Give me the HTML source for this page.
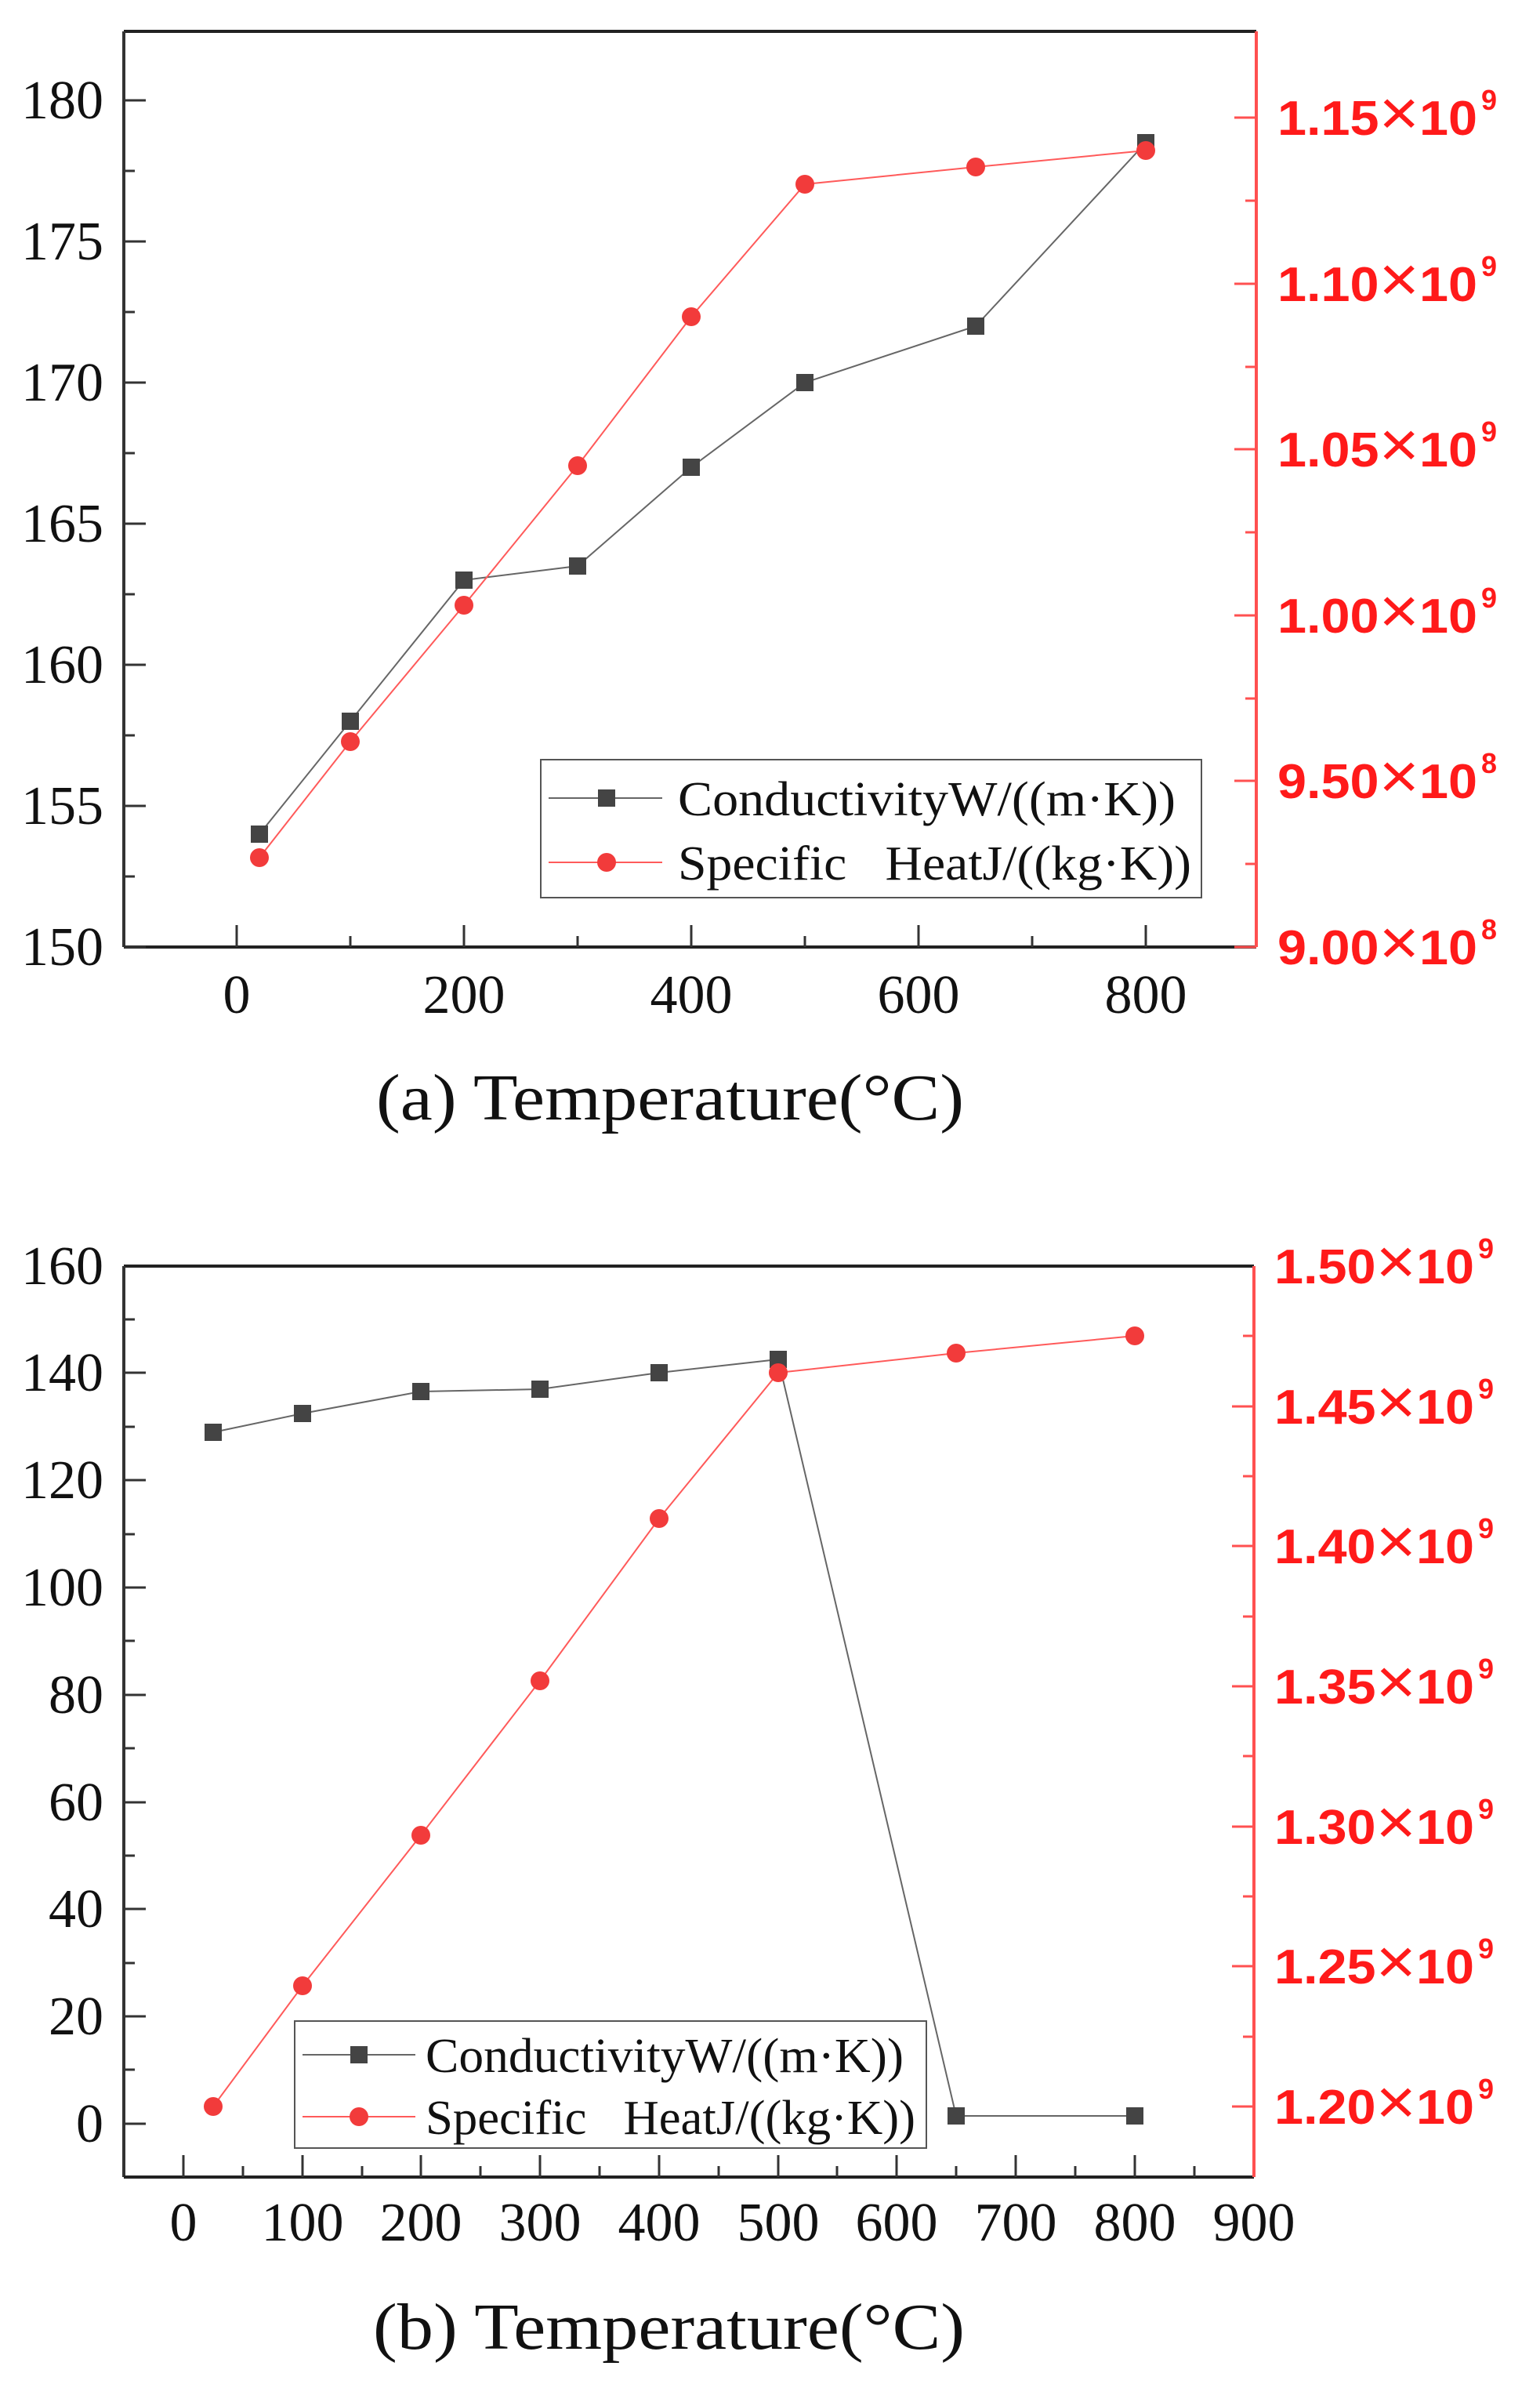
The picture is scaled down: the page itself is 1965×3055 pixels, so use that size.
<!DOCTYPE html>
<html><head><meta charset="utf-8"><style>html,body{margin:0;padding:0;background:#fff}svg{display:block}</style></head>
<body>
<svg width="1965" height="3055" viewBox="0 0 1965 3055" xmlns="http://www.w3.org/2000/svg">
<rect width="1965" height="3055" fill="#fff"/>
<g font-family="Liberation Serif, serif" font-size="70" fill="#111">
<!-- ===== Chart A ===== -->
<line x1="158" y1="40" x2="1603" y2="40" stroke="#222" stroke-width="4"/>
<line x1="158" y1="40" x2="158" y2="1208" stroke="#333" stroke-width="4"/>
<line x1="158" y1="1208" x2="1603" y2="1208" stroke="#222" stroke-width="4"/>
<line x1="1603" y1="40" x2="1603" y2="1208" stroke="#ff5050" stroke-width="4"/>
<g stroke="#333" stroke-width="3">
<line x1="158" y1="1208" x2="186" y2="1208"/><line x1="158" y1="1028" x2="186" y2="1028"/><line x1="158" y1="848" x2="186" y2="848"/><line x1="158" y1="668" x2="186" y2="668"/><line x1="158" y1="488" x2="186" y2="488"/><line x1="158" y1="308" x2="186" y2="308"/><line x1="158" y1="128" x2="186" y2="128"/>
<line x1="158" y1="1118" x2="172" y2="1118"/><line x1="158" y1="938" x2="172" y2="938"/><line x1="158" y1="758" x2="172" y2="758"/><line x1="158" y1="578" x2="172" y2="578"/><line x1="158" y1="398" x2="172" y2="398"/><line x1="158" y1="218" x2="172" y2="218"/>
<line x1="302" y1="1208" x2="302" y2="1180"/><line x1="592" y1="1208" x2="592" y2="1180"/><line x1="882" y1="1208" x2="882" y2="1180"/><line x1="1172" y1="1208" x2="1172" y2="1180"/><line x1="1462" y1="1208" x2="1462" y2="1180"/>
<line x1="447" y1="1208" x2="447" y2="1194"/><line x1="737" y1="1208" x2="737" y2="1194"/><line x1="1027" y1="1208" x2="1027" y2="1194"/><line x1="1317" y1="1208" x2="1317" y2="1194"/>
</g>
<g stroke="#ff5050" stroke-width="3">
<line x1="1603" y1="1208" x2="1575" y2="1208"/><line x1="1603" y1="996" x2="1575" y2="996"/><line x1="1603" y1="785" x2="1575" y2="785"/><line x1="1603" y1="573" x2="1575" y2="573"/><line x1="1603" y1="362" x2="1575" y2="362"/><line x1="1603" y1="150" x2="1575" y2="150"/>
<line x1="1603" y1="1102" x2="1589" y2="1102"/><line x1="1603" y1="891" x2="1589" y2="891"/><line x1="1603" y1="679" x2="1589" y2="679"/><line x1="1603" y1="468" x2="1589" y2="468"/><line x1="1603" y1="256" x2="1589" y2="256"/>
</g>
<g text-anchor="end">
<text x="132" y="1231">150</text><text x="132" y="1051">155</text><text x="132" y="871">160</text><text x="132" y="691">165</text><text x="132" y="511">170</text><text x="132" y="331">175</text><text x="132" y="151">180</text>
</g>
<g text-anchor="middle">
<text x="302" y="1292">0</text><text x="592" y="1292">200</text><text x="882" y="1292">400</text><text x="1172" y="1292">600</text><text x="1462" y="1292">800</text>
</g>
<g font-family="Liberation Sans, sans-serif" fill="#ff1a1a" font-weight="bold" font-size="62">
<text x="1630" y="1230" textLength="255" lengthAdjust="spacingAndGlyphs">9.00<tspan font-size="82" font-weight="normal">×</tspan>10</text><text x="1890" y="1198" font-size="36">8</text>
<text x="1630" y="1018" textLength="255" lengthAdjust="spacingAndGlyphs">9.50<tspan font-size="82" font-weight="normal">×</tspan>10</text><text x="1890" y="986" font-size="36">8</text>
<text x="1630" y="807" textLength="255" lengthAdjust="spacingAndGlyphs">1.00<tspan font-size="82" font-weight="normal">×</tspan>10</text><text x="1890" y="775" font-size="36">9</text>
<text x="1630" y="595" textLength="255" lengthAdjust="spacingAndGlyphs">1.05<tspan font-size="82" font-weight="normal">×</tspan>10</text><text x="1890" y="563" font-size="36">9</text>
<text x="1630" y="384" textLength="255" lengthAdjust="spacingAndGlyphs">1.10<tspan font-size="82" font-weight="normal">×</tspan>10</text><text x="1890" y="352" font-size="36">9</text>
<text x="1630" y="172" textLength="255" lengthAdjust="spacingAndGlyphs">1.15<tspan font-size="82" font-weight="normal">×</tspan>10</text><text x="1890" y="140" font-size="36">9</text>
</g>
<polyline fill="none" stroke="#666" stroke-width="2" points="331,1064 447,920 592,740 737,722 882,596 1027,488 1245,416 1462,182"/>
<polyline fill="none" stroke="#ff5a5a" stroke-width="2" points="331,1094 447,946 592,772 737,594 882,404 1027,235 1245,213 1462,192"/>
<g fill="#444">
<rect x="320" y="1053" width="22" height="22"/><rect x="436" y="909" width="22" height="22"/><rect x="581" y="729" width="22" height="22"/><rect x="726" y="711" width="22" height="22"/><rect x="871" y="585" width="22" height="22"/><rect x="1016" y="477" width="22" height="22"/><rect x="1234" y="405" width="22" height="22"/><rect x="1451" y="171" width="22" height="22"/>
</g>
<g fill="#f23b3b">
<circle cx="331" cy="1094" r="12"/><circle cx="447" cy="946" r="12"/><circle cx="592" cy="772" r="12"/><circle cx="737" cy="594" r="12"/><circle cx="882" cy="404" r="12"/><circle cx="1027" cy="235" r="12"/><circle cx="1245" cy="213" r="12"/><circle cx="1462" cy="192" r="12"/>
</g>
<rect x="690" y="969" width="843" height="176" fill="#fff" stroke="#555" stroke-width="2"/>
<line x1="700" y1="1018" x2="845" y2="1018" stroke="#666" stroke-width="2"/><rect x="763" y="1007" width="22" height="22" fill="#444"/>
<line x1="700" y1="1100" x2="845" y2="1100" stroke="#ff5a5a" stroke-width="2"/><circle cx="774" cy="1100" r="12" fill="#f23b3b"/>
<text x="865" y="1040" font-size="62" textLength="635" lengthAdjust="spacingAndGlyphs">ConductivityW/((m·K))</text>
<text x="865" y="1122" font-size="62" textLength="655" lengthAdjust="spacingAndGlyphs">Specific&#160;&#160;&#160;HeatJ/((kg·K))</text>
<text x="480" y="1428" font-size="84" textLength="750" lengthAdjust="spacingAndGlyphs">(a) Temperature(°C)</text>

<!-- ===== Chart B ===== -->
<line x1="158" y1="1615" x2="1600" y2="1615" stroke="#222" stroke-width="4"/>
<line x1="158" y1="1615" x2="158" y2="2777" stroke="#333" stroke-width="4"/>
<line x1="158" y1="2777" x2="1600" y2="2777" stroke="#222" stroke-width="4"/>
<line x1="1600" y1="1615" x2="1600" y2="2777" stroke="#ff5050" stroke-width="4"/>
<g stroke="#333" stroke-width="3">
<line x1="158" y1="2709" x2="186" y2="2709"/><line x1="158" y1="2572" x2="186" y2="2572"/><line x1="158" y1="2435" x2="186" y2="2435"/><line x1="158" y1="2299" x2="186" y2="2299"/><line x1="158" y1="2162" x2="186" y2="2162"/><line x1="158" y1="2025" x2="186" y2="2025"/><line x1="158" y1="1888" x2="186" y2="1888"/><line x1="158" y1="1751" x2="186" y2="1751"/>
<line x1="158" y1="2640" x2="172" y2="2640"/><line x1="158" y1="2504" x2="172" y2="2504"/><line x1="158" y1="2367" x2="172" y2="2367"/><line x1="158" y1="2230" x2="172" y2="2230"/><line x1="158" y1="2093" x2="172" y2="2093"/><line x1="158" y1="1957" x2="172" y2="1957"/><line x1="158" y1="1820" x2="172" y2="1820"/><line x1="158" y1="1683" x2="172" y2="1683"/>
<line x1="234" y1="2777" x2="234" y2="2749"/><line x1="386" y1="2777" x2="386" y2="2749"/><line x1="537" y1="2777" x2="537" y2="2749"/><line x1="689" y1="2777" x2="689" y2="2749"/><line x1="841" y1="2777" x2="841" y2="2749"/><line x1="993" y1="2777" x2="993" y2="2749"/><line x1="1144" y1="2777" x2="1144" y2="2749"/><line x1="1296" y1="2777" x2="1296" y2="2749"/><line x1="1448" y1="2777" x2="1448" y2="2749"/>
<line x1="310" y1="2777" x2="310" y2="2763"/><line x1="462" y1="2777" x2="462" y2="2763"/><line x1="613" y1="2777" x2="613" y2="2763"/><line x1="765" y1="2777" x2="765" y2="2763"/><line x1="917" y1="2777" x2="917" y2="2763"/><line x1="1068" y1="2777" x2="1068" y2="2763"/><line x1="1220" y1="2777" x2="1220" y2="2763"/><line x1="1372" y1="2777" x2="1372" y2="2763"/><line x1="1524" y1="2777" x2="1524" y2="2763"/>
</g>
<g stroke="#ff5050" stroke-width="3">
<line x1="1600" y1="2687" x2="1572" y2="2687"/><line x1="1600" y1="2508" x2="1572" y2="2508"/><line x1="1600" y1="2330" x2="1572" y2="2330"/><line x1="1600" y1="2151" x2="1572" y2="2151"/><line x1="1600" y1="1972" x2="1572" y2="1972"/><line x1="1600" y1="1794" x2="1572" y2="1794"/>
<line x1="1600" y1="2598" x2="1586" y2="2598"/><line x1="1600" y1="2419" x2="1586" y2="2419"/><line x1="1600" y1="2240" x2="1586" y2="2240"/><line x1="1600" y1="2062" x2="1586" y2="2062"/><line x1="1600" y1="1883" x2="1586" y2="1883"/><line x1="1600" y1="1704" x2="1586" y2="1704"/>
</g>
<g text-anchor="end">
<text x="132" y="2732">0</text><text x="132" y="2595">20</text><text x="132" y="2458">40</text><text x="132" y="2322">60</text><text x="132" y="2185">80</text><text x="132" y="2048">100</text><text x="132" y="1911">120</text><text x="132" y="1774">140</text><text x="132" y="1638">160</text>
</g>
<g text-anchor="middle">
<text x="234" y="2858">0</text><text x="386" y="2858">100</text><text x="537" y="2858">200</text><text x="689" y="2858">300</text><text x="841" y="2858">400</text><text x="993" y="2858">500</text><text x="1144" y="2858">600</text><text x="1296" y="2858">700</text><text x="1448" y="2858">800</text><text x="1600" y="2858">900</text>
</g>
<g font-family="Liberation Sans, sans-serif" fill="#ff1a1a" font-weight="bold" font-size="62">
<text x="1626" y="2709" textLength="255" lengthAdjust="spacingAndGlyphs">1.20<tspan font-size="82" font-weight="normal">×</tspan>10</text><text x="1886" y="2677" font-size="36">9</text>
<text x="1626" y="2530" textLength="255" lengthAdjust="spacingAndGlyphs">1.25<tspan font-size="82" font-weight="normal">×</tspan>10</text><text x="1886" y="2498" font-size="36">9</text>
<text x="1626" y="2352" textLength="255" lengthAdjust="spacingAndGlyphs">1.30<tspan font-size="82" font-weight="normal">×</tspan>10</text><text x="1886" y="2320" font-size="36">9</text>
<text x="1626" y="2173" textLength="255" lengthAdjust="spacingAndGlyphs">1.35<tspan font-size="82" font-weight="normal">×</tspan>10</text><text x="1886" y="2141" font-size="36">9</text>
<text x="1626" y="1994" textLength="255" lengthAdjust="spacingAndGlyphs">1.40<tspan font-size="82" font-weight="normal">×</tspan>10</text><text x="1886" y="1962" font-size="36">9</text>
<text x="1626" y="1816" textLength="255" lengthAdjust="spacingAndGlyphs">1.45<tspan font-size="82" font-weight="normal">×</tspan>10</text><text x="1886" y="1784" font-size="36">9</text>
<text x="1626" y="1637" textLength="255" lengthAdjust="spacingAndGlyphs">1.50<tspan font-size="82" font-weight="normal">×</tspan>10</text><text x="1886" y="1605" font-size="36">9</text>
</g>
<polyline fill="none" stroke="#666" stroke-width="2" points="272,1827 386,1803 537,1775 689,1772 841,1751 993,1734 1220,2699 1448,2699"/>
<polyline fill="none" stroke="#ff5a5a" stroke-width="2" points="272,2687 386,2533 537,2341 689,2144 841,1937 993,1751 1220,1726 1448,1704"/>
<g fill="#444">
<rect x="261" y="1816" width="22" height="22"/><rect x="375" y="1792" width="22" height="22"/><rect x="526" y="1764" width="22" height="22"/><rect x="678" y="1761" width="22" height="22"/><rect x="830" y="1740" width="22" height="22"/><rect x="982" y="1723" width="22" height="22"/><rect x="1209" y="2688" width="22" height="22"/><rect x="1437" y="2688" width="22" height="22"/>
</g>
<g fill="#f23b3b">
<circle cx="272" cy="2687" r="12"/><circle cx="386" cy="2533" r="12"/><circle cx="537" cy="2341" r="12"/><circle cx="689" cy="2144" r="12"/><circle cx="841" cy="1937" r="12"/><circle cx="993" cy="1751" r="12"/><circle cx="1220" cy="1726" r="12"/><circle cx="1448" cy="1704" r="12"/>
</g>
<rect x="376" y="2578" width="806" height="162" fill="#fff" stroke="#555" stroke-width="2"/>
<line x1="386" y1="2621" x2="530" y2="2621" stroke="#666" stroke-width="2"/><rect x="447" y="2610" width="22" height="22" fill="#444"/>
<line x1="386" y1="2700" x2="530" y2="2700" stroke="#ff5a5a" stroke-width="2"/><circle cx="458" cy="2700" r="12" fill="#f23b3b"/>
<text x="543" y="2643" font-size="62" textLength="610" lengthAdjust="spacingAndGlyphs">ConductivityW/((m·K))</text>
<text x="543" y="2722" font-size="62" textLength="625" lengthAdjust="spacingAndGlyphs">Specific&#160;&#160;&#160;HeatJ/((kg·K))</text>
<text x="476" y="2996" font-size="84" textLength="755" lengthAdjust="spacingAndGlyphs">(b) Temperature(°C)</text>
</g>
</svg>
</body></html>
